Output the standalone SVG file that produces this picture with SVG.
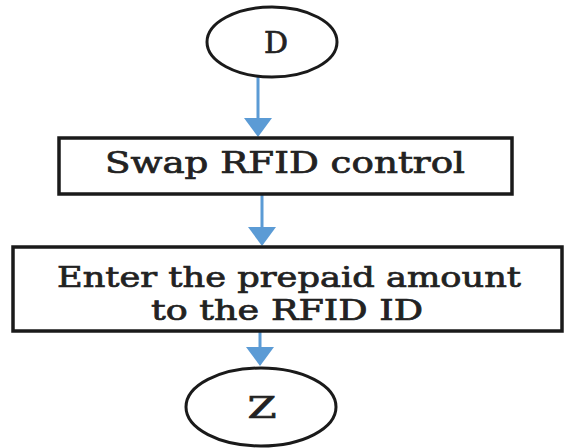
<svg xmlns="http://www.w3.org/2000/svg" width="564" height="448" viewBox="0 0 564 448">
<style>
.shape{fill:#fff;stroke:#1a1a1a;stroke-width:3.5}
.ell{fill:#fff;stroke:#1a1a1a;stroke-width:3}
.lbl{font-family:"DejaVu Serif","Liberation Serif",serif;fill:#222;stroke:#222;stroke-width:0.7;text-anchor:middle}
.conn{stroke:#5b9bd5;stroke-width:3;fill:none}
</style>
<defs>
<marker id="ah" viewBox="0 0 19 28" refX="6" refY="14" markerWidth="19" markerHeight="28" markerUnits="userSpaceOnUse" orient="auto">
<path d="M0,0 L19,14 L0,28 z" fill="#5b9bd5"/>
</marker>
</defs>
<g id="connectors">
<line class="conn" x1="258" y1="77" x2="258" y2="124" marker-end="url(#ah)"/>
<line class="conn" x1="262" y1="195" x2="262" y2="233" marker-end="url(#ah)"/>
<line class="conn" x1="260" y1="332" x2="260" y2="353" marker-end="url(#ah)"/>
</g>
<g id="nodeD">
<ellipse class="ell" cx="272" cy="42" rx="65" ry="35"/>
<text class="lbl" x="276" y="53" font-size="30">D</text>
</g>
<g id="nodeSwap">
<rect class="shape" x="59" y="138" width="453" height="56"/>
<text class="lbl" x="285" y="173" font-size="29" textLength="360" lengthAdjust="spacingAndGlyphs">Swap RFID control</text>
</g>
<g id="nodeEnter">
<rect class="shape" x="13" y="247" width="549" height="84"/>
<text class="lbl" x="289" y="287" font-size="27" textLength="464" lengthAdjust="spacingAndGlyphs">Enter the prepaid amount</text>
<text class="lbl" x="287" y="320" font-size="27" textLength="272" lengthAdjust="spacingAndGlyphs">to the RFID ID</text>
</g>
<g id="nodeZ">
<ellipse class="ell" cx="261" cy="407" rx="75" ry="39"/>
<text class="lbl" x="262" y="418" font-size="29" stroke-width="0.3" textLength="29" lengthAdjust="spacingAndGlyphs">Z</text>
</g>
</svg>
